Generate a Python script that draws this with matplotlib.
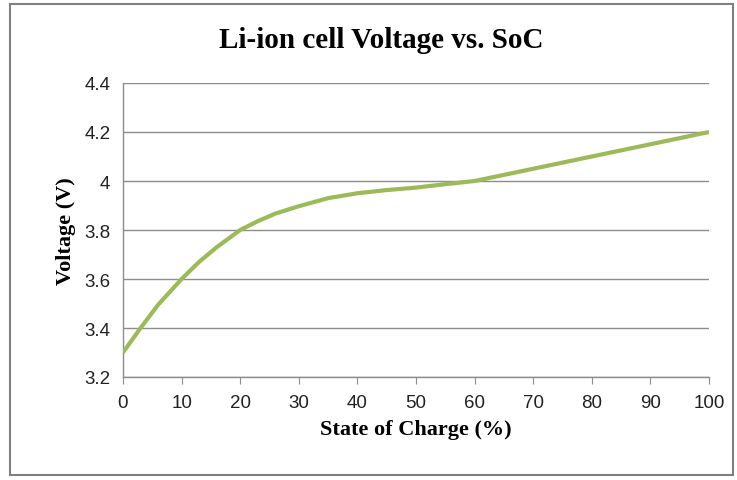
import matplotlib
matplotlib.use("Agg")
import matplotlib.pyplot as plt
from matplotlib.ticker import FuncFormatter
from matplotlib.patches import Rectangle

soc = [0, 3, 6, 10, 13, 16, 20, 23, 26, 30, 35, 40, 45, 50, 55, 60, 70, 80, 90, 100]
voltage = [3.30, 3.40, 3.495, 3.60, 3.67, 3.73, 3.80, 3.836, 3.867, 3.897, 3.93, 3.95, 3.963, 3.973,
           3.987, 4.00, 4.05, 4.10, 4.15, 4.20]
xticks = [0, 10, 20, 30, 40, 50, 60, 70, 80, 90, 100]
yticks = [3.2, 3.4, 3.6, 3.8, 4.0, 4.2, 4.4]

fig = plt.figure(figsize=(7.37, 4.81), dpi=100)
ax = fig.add_axes([123/737, 1-378/481, (709-123)/737, (378-84)/481])

ax.plot(soc, voltage, color="#9BBB59", lw=3.0, solid_capstyle="butt",
        solid_joinstyle="round", zorder=3)

ax.set_xlim(0, 100)
ax.set_ylim(3.2, 4.4)
ax.set_xticks(xticks)
ax.set_yticks(yticks)
ax.yaxis.set_major_formatter(FuncFormatter(lambda v, p: f"{v:g}"))
ax.grid(axis="y", color="#8c8c8c", lw=1.0)
ax.set_axisbelow(True)
for s in ["top", "right"]:
    ax.spines[s].set_visible(False)
for s in ["left", "bottom"]:
    ax.spines[s].set_color("#8c8c8c")
    ax.spines[s].set_linewidth(1.0)
ax.tick_params(axis="x", direction="out", length=5, color="#8c8c8c", pad=7)
ax.tick_params(axis="y", length=0, pad=9)
for lab in ax.get_xticklabels() + ax.get_yticklabels():
    lab.set_fontfamily("Liberation Sans")
    lab.set_fontsize(13.5)
    lab.set_color("#222222")

ax.set_xlabel("State of Charge (%)", fontfamily="Liberation Serif", fontweight="bold", fontsize=16, labelpad=6)
ax.set_ylabel("Voltage (V)", fontfamily="Liberation Serif", fontweight="bold", fontsize=16, labelpad=6)
fig.text(381/737, 1-41/481, "Li-ion cell Voltage vs. SoC", ha="center", va="center",
         fontfamily="Liberation Serif", fontweight="bold", fontsize=21)

fig.patches.append(Rectangle((10/737, 1-476/481), (733-10)/737, (476-5)/481, transform=fig.transFigure,
                             fill=False, edgecolor="#808080", lw=1.5))

fig.savefig("out.png", dpi=100)
